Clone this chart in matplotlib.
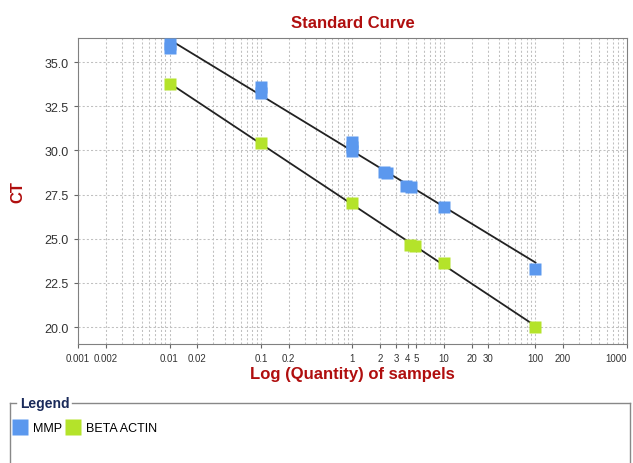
import numpy as np
import matplotlib
matplotlib.use('Agg')
import matplotlib.pyplot as plt
from matplotlib.ticker import FixedLocator, LogLocator, NullFormatter
from matplotlib.lines import Line2D

plt.rcParams['font.family'] = ['Liberation Sans', 'DejaVu Sans']

# replicate readings (quantity, CT)
mmp_qty = [0.01, 0.01, 0.1, 0.1, 1, 1, 1, 2.2, 2.4, 3.8, 4.4, 10, 100]
mmp_ct = [36.0, 35.8, 33.6, 33.25, 30.5, 30.2, 29.95, 28.8, 28.7, 28.0, 27.9, 26.8, 23.3]
actin_qty = [0.01, 0.1, 1, 4.3, 4.8, 10, 100]
actin_ct = [33.75, 30.4, 27.0, 24.65, 24.6, 23.6, 20.0]

tick_vals = [0.001, 0.002, 0.01, 0.02, 0.1, 0.2, 1, 2, 3, 4, 5, 10, 20, 30, 100, 200, 1000]
tick_text = ['0.001', '0.002', '0.01', '0.02', '0.1', '0.2', '1', '2', '3', '4', '5',
             '10', '20', '30', '100', '200', '1000']

red = '#B00E0E'
blue = '#5B98EE'
green = '#B4E32A'

fig = plt.figure(figsize=(6.33, 4.64), dpi=100)
ax = fig.add_axes([78/633, 1-345/464, (627-78)/633, (345-39)/464])

series = [('MMP', mmp_qty, mmp_ct, blue), ('BETA ACTIN', actin_qty, actin_ct, green)]
handles = []
for name, q, ct, col in series:
    lq = np.log10(q)
    k, b = np.polyfit(lq, ct, 1)
    xs = np.array([min(q), max(q)])
    ax.plot(xs, k*np.log10(xs) + b, color='#222222', lw=1.3, zorder=2)
    h, = ax.plot(q, ct, 's', color=col, ms=8, mec='none', zorder=3, label=name)
    handles.append(h)

ax.set_xscale('log')
ax.set_xlim(0.001, 1000)
ax.set_ylim(19.04, 36.36)
ax.xaxis.set_major_locator(FixedLocator(tick_vals))
ax.set_xticklabels(tick_text, fontsize=7)
ax.get_xticklabels()[-1].set_ha('right')
ax.xaxis.set_minor_locator(LogLocator(base=10, subs=np.arange(1, 10), numticks=20))
ax.xaxis.set_minor_formatter(NullFormatter())
ax.tick_params(axis='x', which='minor', length=0)
ax.tick_params(axis='x', which='major', length=3, color='#666666', labelcolor='#333333')
ax.set_yticks([20.0, 22.5, 25.0, 27.5, 30.0, 32.5, 35.0])
ax.set_yticklabels(['20.0', '22.5', '25.0', '27.5', '30.0', '32.5', '35.0'], fontsize=9)
ax.tick_params(axis='y', length=3, color='#666666', labelcolor='#333333')
ax.grid(True, which='both', axis='x', color='#C0C0C0', linestyle=(0, (2, 2)), lw=0.75)
ax.grid(True, which='major', axis='y', color='#C0C0C0', linestyle=(0, (2, 2)), lw=0.75)
for s in ax.spines.values():
    s.set_color('#808080')

ax.set_title('Standard Curve', color=red, fontsize=12, fontweight='bold', pad=8)
ax.set_ylabel('CT', color=red, fontsize=12, fontweight='bold', labelpad=14)
ax.set_xlabel('Log (Quantity) of sampels', color=red, fontsize=12, fontweight='bold', labelpad=2)

# legend frame
W, H = 633, 464
def fx(px): return px / W
def fy(py): return 1 - py / H
fig.add_artist(Line2D([fx(10), fx(10)], [fy(404), fy(470)], color='#888888', lw=1))
fig.add_artist(Line2D([fx(10), fx(16)], [fy(404), fy(404)], color='#888888', lw=1))
fig.add_artist(Line2D([fx(72), fx(630)], [fy(404), fy(404)], color='#888888', lw=1))
fig.add_artist(Line2D([fx(630), fx(630)], [fy(404), fy(470)], color='#888888', lw=1))
fig.text(fx(20), fy(404), 'Legend', fontsize=10, fontweight='bold', color='#1A2A5A',
         va='center', ha='left')
fig.legend(handles=handles, loc='upper left', bbox_to_anchor=(fx(4), fy(412)), ncol=2,
           frameon=False, fontsize=9, markerscale=1.4, handlelength=0.8,
           handletextpad=0.6, columnspacing=0.5)

fig.savefig('out.png', dpi=100)
